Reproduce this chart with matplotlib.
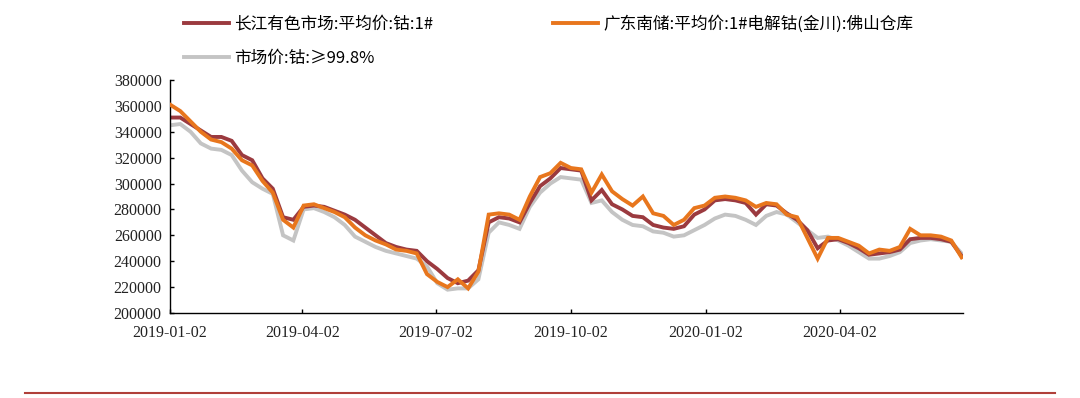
import numpy as np
import pandas as pd
import matplotlib
matplotlib.use('Agg')
import matplotlib.pyplot as plt
import matplotlib.dates as mdates
from matplotlib.lines import Line2D

# weekly readings, in yuan/ton
dates = pd.date_range('2019-01-02', periods=78, freq='7D')

changjiang = [351, 351, 346, 341, 336, 336, 333, 322, 318, 304,
              296, 274, 272, 282, 283, 282, 279, 276, 272, 266,
              260, 254, 251, 249, 248, 240, 234, 227, 223, 225,
              233, 270, 274, 273, 270, 285, 298, 304, 312, 311,
              310, 287, 295, 284, 280, 275, 274, 268, 266, 265,
              267, 276, 280, 287, 288, 287, 285, 276, 284, 283,
              277, 272, 264, 250, 256, 257, 254, 250, 245, 246,
              247, 249, 257, 258, 258, 257, 255, 244]
guangdong = [361, 356, 348, 340, 334, 332, 327, 318, 314, 302,
             293, 272, 266, 283, 284, 281, 278, 274, 266, 260,
             256, 253, 249, 248, 246, 230, 224, 220, 226, 219,
             232, 276, 277, 276, 272, 290, 305, 308, 316, 312,
             311, 293, 307, 294, 288, 283, 290, 277, 275, 268,
             272, 281, 283, 289, 290, 289, 287, 282, 285, 284,
             276, 274, 258, 242, 258, 258, 255, 252, 246, 249,
             248, 251, 265, 260, 260, 259, 256, 243]
market = [345, 346, 340, 331, 327, 326, 322, 310, 301, 296,
          292, 260, 256, 280, 281, 278, 274, 268, 259, 255,
          251, 248, 246, 244, 242, 236, 223, 218, 219, 219,
          226, 262, 270, 268, 265, 282, 293, 300, 305, 304,
          303, 285, 287, 278, 272, 268, 267, 263, 262, 259,
          260, 264, 268, 273, 276, 275, 272, 268, 275, 278,
          276, 270, 264, 258, 259, 256, 252, 247, 242, 242,
          244, 247, 254, 256, 257, 256, 255, 246]

labels = ['长江有色市场:平均价:钴:1#',
          '广东南储:平均价:1#电解钴(金川):佛山仓库',
          '市场价:钴:≥99.8%']
colors = ['#9B3A3F', '#E8761D', '#C4C4C4']

fig = plt.figure(figsize=(10.8, 3.98), dpi=100)
ax = fig.add_axes([0.1574, 0.2136, 0.7343, 0.5854])

series = [np.array(changjiang) * 1000, np.array(guangdong) * 1000, np.array(market) * 1000]
lines = []
for vals, c, z in zip(series, colors, [2, 3, 1]):
    ln, = ax.plot(dates, vals, color=c, lw=2.8, zorder=z, solid_joinstyle='miter')
    lines.append(ln)

ax.set_ylim(200000, 380000)
ax.set_yticks(np.arange(200000, 380001, 20000))
ax.set_xlim(pd.Timestamp('2019-01-02'), pd.Timestamp('2020-06-25'))
ax.set_xticks(pd.to_datetime(['2019-01-02', '2019-04-02', '2019-07-02',
                              '2019-10-02', '2020-01-02', '2020-04-02']))
ax.xaxis.set_major_formatter(mdates.DateFormatter('%Y-%m-%d'))

for s in ['top', 'right']:
    ax.spines[s].set_visible(False)
for s in ['left', 'bottom']:
    ax.spines[s].set_color('black')
    ax.spines[s].set_linewidth(1.0)
ax.tick_params(direction='in', length=3, width=1, colors='black')
ax.tick_params(axis='y', pad=6)
ax.tick_params(axis='x', pad=9)
for t in ax.get_xticklabels() + ax.get_yticklabels():
    t.set_fontfamily('Liberation Serif')
    t.set_fontsize(11.5)
    t.set_color('#222222')

fig.legend([lines[0], lines[2], lines[1]], [labels[0], labels[2], labels[1]],
           ncol=2, loc='upper left', bbox_to_anchor=(0.1565, 1.0),
           frameon=False, handlelength=2.7, handletextpad=0.3,
           columnspacing=7.2, labelspacing=1.05,
           prop={'family': ['Noto Sans CJK SC', 'DejaVu Sans'], 'size': 12})

fig.add_artist(Line2D([25 / 1080, 1055 / 1080], [5 / 398, 5 / 398],
                      color='#B0403A', lw=1.5, transform=fig.transFigure))

fig.savefig('out.png', dpi=100)
